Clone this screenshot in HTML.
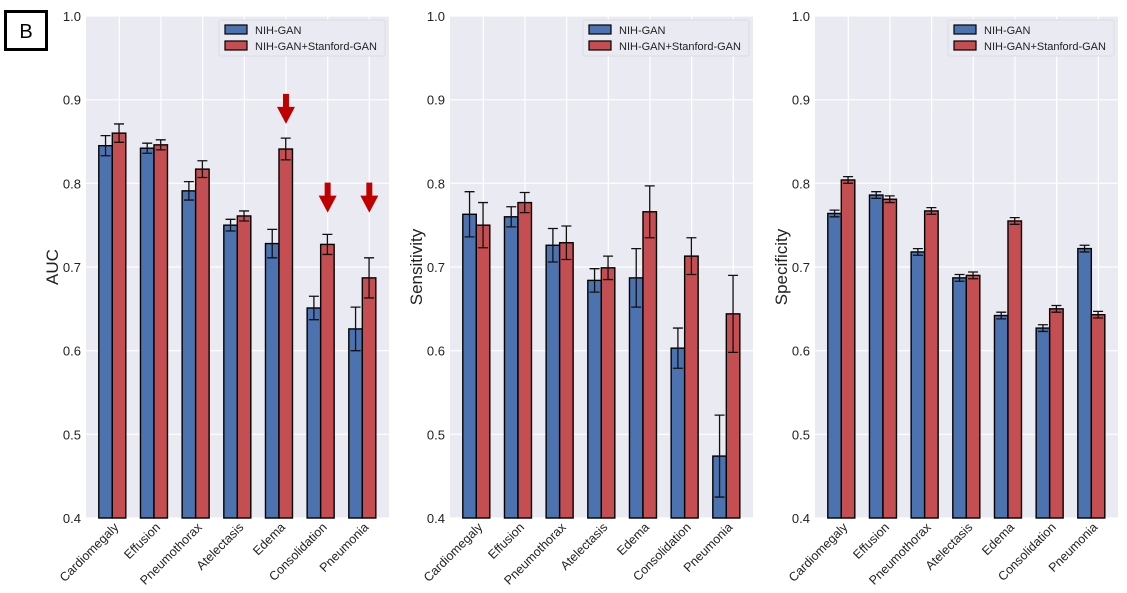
<!DOCTYPE html>
<html><head><meta charset="utf-8">
<style>
body{margin:0;background:#fff;width:1127px;height:593px;overflow:hidden;font-family:"Liberation Sans",sans-serif;}
svg{display:block}
</style></head>
<body>
<svg id="chart" width="1127" height="593" xmlns="http://www.w3.org/2000/svg" font-family="Liberation Sans, sans-serif">
<rect x="5.5" y="11.5" width="41" height="38" fill="#fff" stroke="#000" stroke-width="3"/>
<text x="26" y="38" font-size="20" text-anchor="middle">B</text>
</svg>
<script>
const categories=["Cardiomegaly","Effusion","Pneumothorax","Atelectasis","Edema","Consolidation","Pneumonia"];
const seriesNames=["NIH-GAN","NIH-GAN+Stanford-GAN"];
const yTicks=[0.4,0.5,0.6,0.7,0.8,0.9,1.0];
const aucNih=[0.845,0.842,0.791,0.750,0.728,0.651,0.626];
const aucNihErr=[0.012,0.006,0.011,0.007,0.017,0.014,0.026];
const aucBoth=[0.860,0.846,0.817,0.761,0.841,0.727,0.687];
const aucBothErr=[0.011,0.006,0.010,0.006,0.013,0.012,0.024];
const senNih=[0.763,0.760,0.726,0.684,0.687,0.603,0.474];
const senNihErr=[0.027,0.012,0.020,0.014,0.035,0.024,0.049];
const senBoth=[0.750,0.777,0.729,0.699,0.766,0.713,0.644];
const senBothErr=[0.027,0.012,0.020,0.014,0.031,0.022,0.046];
const speNih=[0.764,0.786,0.718,0.687,0.642,0.627,0.722];
const speNihErr=[0.004,0.004,0.004,0.004,0.004,0.004,0.004];
const speBoth=[0.804,0.781,0.767,0.690,0.755,0.650,0.643];
const speBothErr=[0.004,0.004,0.004,0.004,0.004,0.004,0.004];
const arrowCats=["Edema","Consolidation","Pneumonia"];
const arrowTipValues=[0.871,0.765,0.765];

const svg=document.getElementById('chart');
const NS='http://www.w3.org/2000/svg';
function mk(tag,attrs,parent){const e=document.createElementNS(NS,tag);for(const k in attrs)e.setAttribute(k,attrs[k]);(parent||svg).appendChild(e);return e;}
const plotTop=16,plotBot=518,yMin=0.4,yMax=1.0;
function yScale(v){return plotTop+(yMax-v)/(yMax-yMin)*(plotBot-plotTop);}
const panels=[
 {left:86,title:"AUC",a:aucNih,ae:aucNihErr,b:aucBoth,be:aucBothErr,arrows:true,name:"auc"},
 {left:450,title:"Sensitivity",a:senNih,ae:senNihErr,b:senBoth,be:senBothErr,arrows:false,name:"sensitivity"},
 {left:815,title:"Specificity",a:speNih,ae:speNihErr,b:speBoth,be:speBothErr,arrows:false,name:"specificity"}];
const W=303,sp=41.67,bw=13.5;
panels.forEach(p=>{
 const g=mk('g',{});
 
 
 const bg=mk('rect',{x:p.left,y:plotTop,width:W,height:plotBot-plotTop,fill:'#eaeaf2'},g);
 
 
 function xc(i){return p.left+26.3+i*sp;}
 yTicks.forEach(t=>{
  const y=yScale(t);
  const gl=mk('line',{x1:p.left,x2:p.left+W,y1:y,y2:y,stroke:'#fff','stroke-width':1.2},g);
  
  
  const tl=mk('text',{x:p.left-5,y:y+5,'font-size':13,'text-anchor':'end',fill:'#222'},g);
  
  
  tl.textContent=t.toFixed(1);
 });
 categories.forEach((c,i)=>{
  const x=xc(i)+7;
  const gl=mk('line',{x1:x,x2:x,y1:plotTop,y2:plotBot,stroke:'#fff','stroke-width':1.2},g);
  
  
 });
 categories.forEach((c,i)=>{
  const cx=xc(i);
  [[p.a,p.ae,'#4c72b0',cx-bw,'nih'],[p.b,p.be,'#c44e52',cx,'both']].forEach(s=>{
   const v=s[0][i],e=s[1][i];
   const y=yScale(v);
   const r=mk('rect',{x:s[3],y:y,width:bw,height:plotBot-y,fill:s[2],stroke:'#000','stroke-width':1.4},g);
   
   
   const ex=s[3]+bw/2,y1=yScale(v+e),y2=yScale(v-e);
   const eb=mk('path',{d:`M${ex},${y1}V${y2}M${ex-5},${y1}H${ex+5}M${ex-5},${y2}H${ex+5}`,stroke:'#111','stroke-width':1.3,fill:'none'},g);
   
   
  });
  const tx=cx+7,ty=plotBot+10;
  const lab=mk('text',{x:tx,y:ty,'font-size':12.5,'text-anchor':'end',fill:'#222',transform:`rotate(-45 ${tx} ${ty})`},g);
  
  
  lab.textContent=c;
  const ai=arrowCats.indexOf(c);
  if(p.arrows && ai>=0){
   const ax=cx+7,ay=yScale(arrowTipValues[ai]);
   const ar=mk('path',{d:`M${ax-3},${ay-30}H${ax+3}V${ay-17}H${ax+9}L${ax},${ay}L${ax-9},${ay-17}H${ax-3}Z`,fill:'#c00000'},g);
   
   
  }
 });
 const yt=mk('text',{x:0,y:0,'font-size':17,'text-anchor':'middle',fill:'#222',transform:`translate(${p.left-28},267) rotate(-90)`},g);
 
 
 yt.textContent=p.title;
 const lx=p.left+133;
 const lg=mk('g',{},g);
 
 
 mk('rect',{x:lx,y:20,width:166,height:36,fill:'#eaeaf2',stroke:'#dcdce6',rx:2},lg);
 seriesNames.forEach((n,k)=>{
  const sw=mk('rect',{x:lx+6,y:25+k*16,width:22,height:9,fill:k?'#c44e52':'#4c72b0',stroke:'#000','stroke-width':1.2},lg);
  
  
  const lt=mk('text',{x:lx+36,y:34+k*16,'font-size':11,fill:'#222'},lg);
  
  
  lt.textContent=n;
 });
});
</script>
</body></html>
